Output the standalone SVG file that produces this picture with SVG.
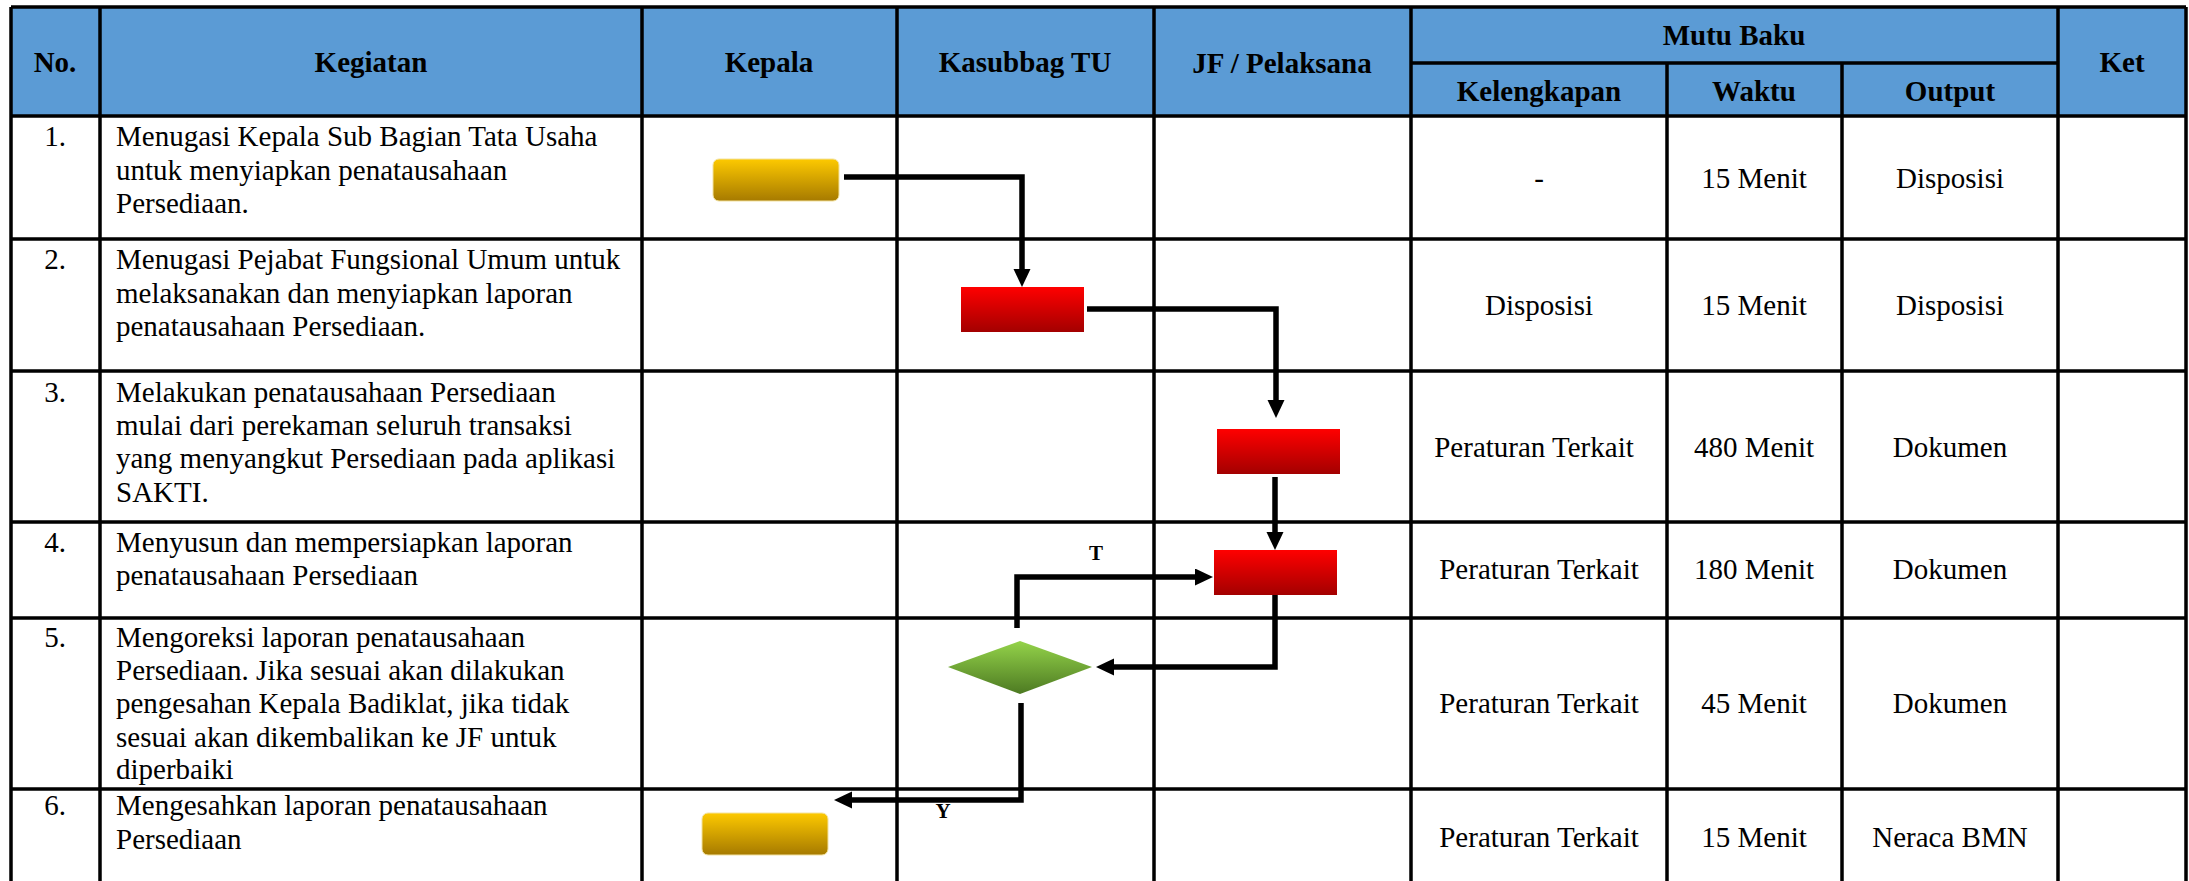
<svg xmlns="http://www.w3.org/2000/svg" width="2189" height="881" viewBox="0 0 2189 881" font-family="Liberation Serif">
<defs>
<linearGradient id="gY" x1="0" y1="0" x2="0" y2="1"><stop offset="0" stop-color="#FDC900"/><stop offset="1" stop-color="#A67A00"/></linearGradient>
<linearGradient id="gR" x1="0" y1="0" x2="0" y2="1"><stop offset="0" stop-color="#FF0000"/><stop offset="1" stop-color="#A30000"/></linearGradient>
<linearGradient id="gG" x1="0" y1="0" x2="0" y2="1"><stop offset="0" stop-color="#94D34A"/><stop offset="1" stop-color="#4D7A22"/></linearGradient>
<marker id="ah" markerUnits="userSpaceOnUse" markerWidth="19" markerHeight="18" refX="0" refY="8.5" orient="auto"><path d="M0,0 L18,8.5 L0,17 z" fill="#000"/></marker>
</defs>
<style>
.hd{font-family:'Liberation Serif',serif;font-weight:bold;font-size:29px;text-anchor:middle;fill:#000}
.tx{font-family:'Liberation Serif',serif;font-size:29px;fill:#000}
.c{text-anchor:middle}
.lb{font-family:'Liberation Serif',serif;font-weight:bold;font-size:21px;text-anchor:middle;fill:#000}
.gl{stroke:#000;stroke-width:3.5;fill:none}
.cn{stroke:#000;stroke-width:5.5;fill:none;marker-end:url(#ah)}
.yl{fill:url(#gY);stroke:#F2E2A0;stroke-width:1}
.rd{fill:url(#gR)}
.dm{fill:url(#gG)}
</style>
<rect width="2189" height="881" fill="#fff"/>
<g id="table">
<rect x="11" y="7" width="2175" height="109" fill="#5B9BD5"/>
<path class="gl" d="M11,7 H2186 M1411,63 H2058 M11,116 H2186 M11,239 H2186 M11,371 H2186 M11,522 H2186 M11,618 H2186 M11,789 H2186"/>
<path class="gl" d="M11,7 V881 M100,7 V881 M642,7 V881 M897,7 V881 M1154,7 V881 M1411,7 V881 M1667,63 V881 M1842,63 V881 M2058,7 V881 M2186,7 V881"/>
</g>
<g id="header">
<text class="hd" x="55" y="72">No.</text>
<text class="hd" x="371" y="72">Kegiatan</text>
<text class="hd" x="769" y="72">Kepala</text>
<text class="hd" x="1025" y="72">Kasubbag TU</text>
<text class="hd" x="1282" y="73">JF / Pelaksana</text>
<text class="hd" x="1734" y="45">Mutu Baku</text>
<text class="hd" x="1539" y="101">Kelengkapan</text>
<text class="hd" x="1754" y="101">Waktu</text>
<text class="hd" x="1950" y="101">Output</text>
<text class="hd" x="2122" y="72">Ket</text>
</g>
<g id="row1">
<text class="tx c" x="55" y="146">1.</text>
<text class="tx" x="116" y="146">Menugasi Kepala Sub Bagian Tata Usaha</text>
<text class="tx" x="116" y="179.5">untuk menyiapkan penatausahaan</text>
<text class="tx" x="116" y="213">Persediaan.</text>
<text class="tx c" x="1539" y="188">-</text>
<text class="tx c" x="1754" y="188">15 Menit</text>
<text class="tx c" x="1950" y="188">Disposisi</text>
</g>
<g id="row2">
<text class="tx c" x="55" y="269">2.</text>
<text class="tx" x="116" y="269">Menugasi Pejabat Fungsional Umum untuk</text>
<text class="tx" x="116" y="302.5">melaksanakan dan menyiapkan laporan</text>
<text class="tx" x="116" y="336">penatausahaan Persediaan.</text>
<text class="tx c" x="1539" y="315">Disposisi</text>
<text class="tx c" x="1754" y="315">15 Menit</text>
<text class="tx c" x="1950" y="315">Disposisi</text>
</g>
<g id="row3">
<text class="tx c" x="55" y="402">3.</text>
<text class="tx" x="116" y="402">Melakukan penatausahaan Persediaan</text>
<text class="tx" x="116" y="435">mulai dari perekaman seluruh transaksi</text>
<text class="tx" x="116" y="468">yang menyangkut Persediaan pada aplikasi</text>
<text class="tx" x="116" y="501.5">SAKTI.</text>
<text class="tx c" x="1534" y="457">Peraturan Terkait</text>
<text class="tx c" x="1754" y="457">480 Menit</text>
<text class="tx c" x="1950" y="457">Dokumen</text>
</g>
<g id="row4">
<text class="tx c" x="55" y="552">4.</text>
<text class="tx" x="116" y="552">Menyusun dan mempersiapkan laporan</text>
<text class="tx" x="116" y="584.5">penatausahaan Persediaan</text>
<text class="tx c" x="1539" y="579">Peraturan Terkait</text>
<text class="tx c" x="1754" y="579">180 Menit</text>
<text class="tx c" x="1950" y="579">Dokumen</text>
</g>
<g id="row5">
<text class="tx c" x="55" y="647">5.</text>
<text class="tx" x="116" y="647">Mengoreksi laporan penatausahaan</text>
<text class="tx" x="116" y="680">Persediaan. Jika sesuai akan dilakukan</text>
<text class="tx" x="116" y="713">pengesahan Kepala Badiklat, jika tidak</text>
<text class="tx" x="116" y="746.5">sesuai akan dikembalikan ke JF untuk</text>
<text class="tx" x="116" y="779">diperbaiki</text>
<text class="tx c" x="1539" y="713">Peraturan Terkait</text>
<text class="tx c" x="1754" y="713">45 Menit</text>
<text class="tx c" x="1950" y="713">Dokumen</text>
</g>
<g id="row6">
<text class="tx c" x="55" y="815">6.</text>
<text class="tx" x="116" y="815">Mengesahkan laporan penatausahaan</text>
<text class="tx" x="116" y="849">Persediaan</text>
<text class="tx c" x="1539" y="847">Peraturan Terkait</text>
<text class="tx c" x="1754" y="847">15 Menit</text>
<text class="tx c" x="1950" y="847">Neraca BMN</text>
</g>
<g id="connectors">
<path class="cn" d="M844,177 H1022 V269"/>
<path class="cn" d="M1087,309 H1276 V400"/>
<path class="cn" d="M1275,477 V532"/>
<path class="cn" d="M1017,628 V577 H1195"/>
<path class="cn" d="M1275,595 V667 H1114"/>
<path class="cn" d="M1021,703 V800 H852"/>
<text class="lb" x="1096" y="560">T</text>
<text class="lb" x="943" y="818">Y</text>
</g>
<g id="n1"><rect class="yl" x="713" y="159" width="126" height="42" rx="6"/></g>
<g id="n2"><rect class="rd" x="961" y="287" width="123" height="45"/></g>
<g id="n3"><rect class="rd" x="1217" y="429" width="123" height="45"/></g>
<g id="n4"><rect class="rd" x="1214" y="550" width="123" height="45"/></g>
<g id="n5"><polygon class="dm" points="948,667 1020,641 1092,667 1020,694"/></g>
<g id="n6"><rect class="yl" x="702" y="813" width="126" height="42" rx="6"/></g>
</svg>
